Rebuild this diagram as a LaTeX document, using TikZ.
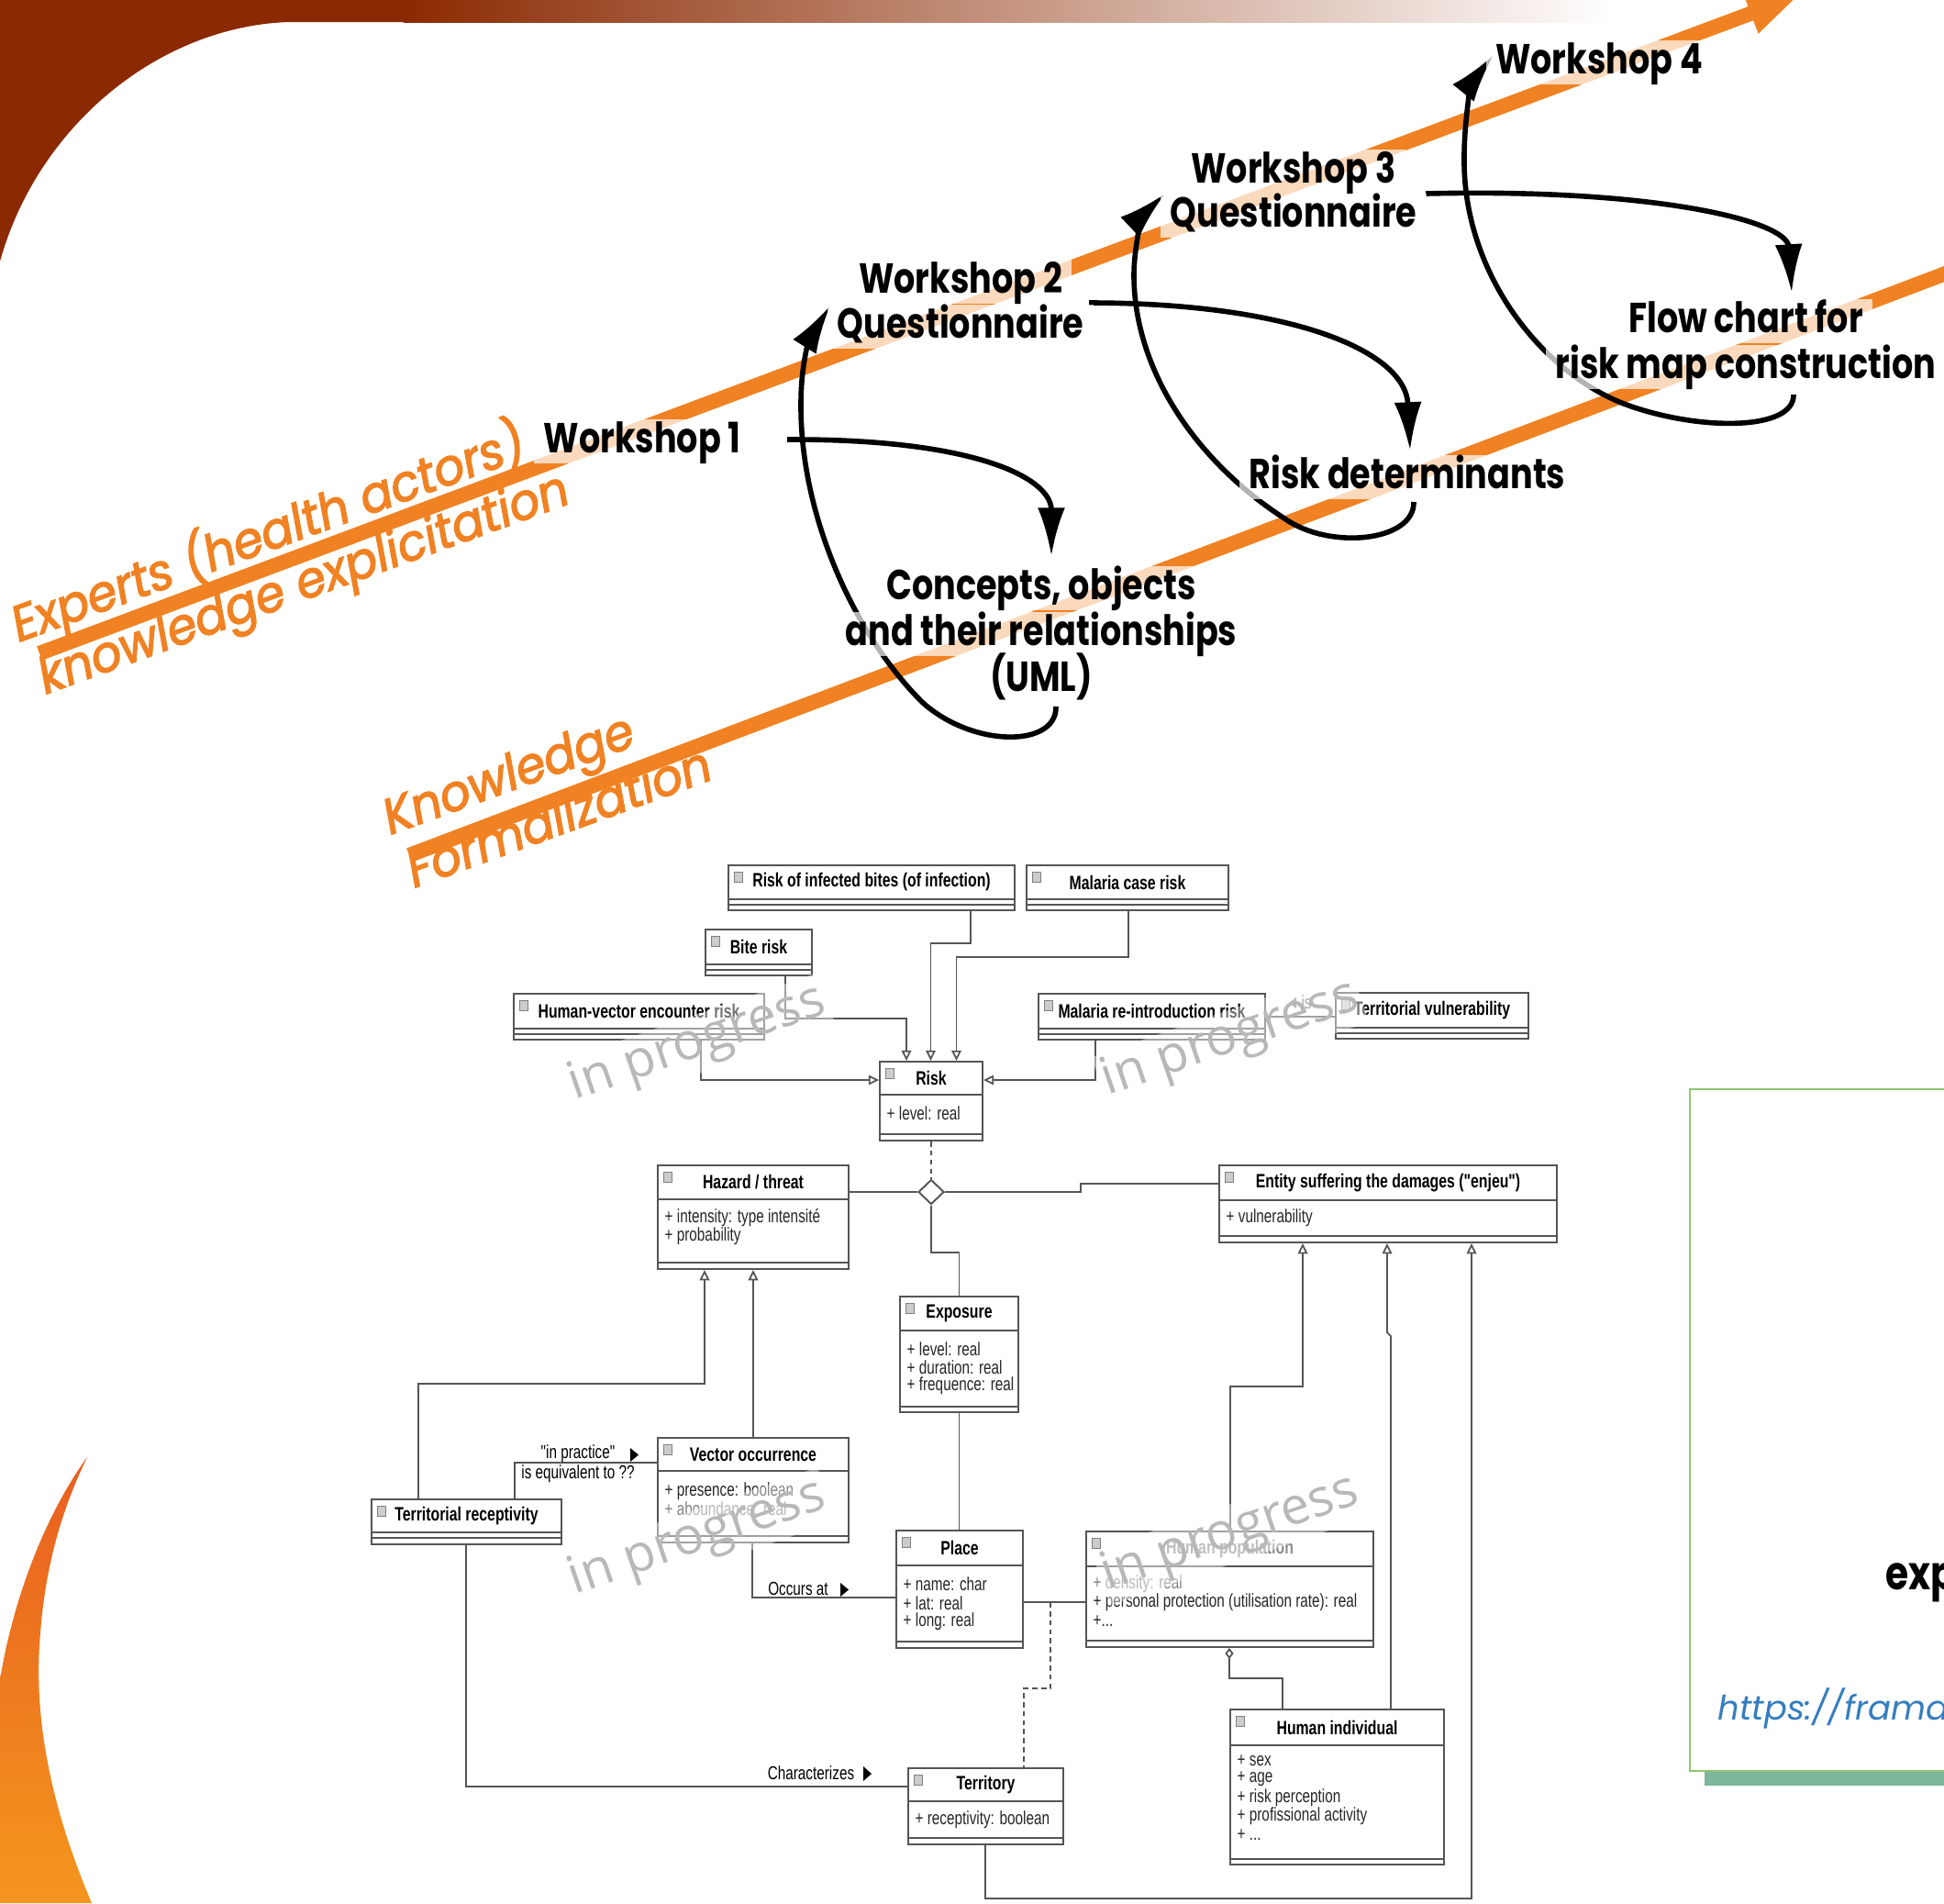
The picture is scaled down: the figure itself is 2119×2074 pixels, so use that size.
\documentclass[tikz,border=0pt]{standalone}
\usepackage{fontspec}
\usetikzlibrary{arrows.meta,shapes.geometric,fit}
\newfontfamily\wsf[FakeStretch=0.8]{Poppins}
\newfontfamily\orf[FakeStretch=0.95,FakeBold=2.5]{Poppins}
\newfontfamily\lnkf{Poppins}
\newfontfamily\umlf[FakeStretch=0.75]{Liberation Sans}
\newfontfamily\wmf{Open Sans}
\definecolor{orng}{RGB}{240,130,35}
\definecolor{brwn}{RGB}{139,42,2}
\definecolor{umlgray}{RGB}{85,85,85}
\definecolor{grn}{RGB}{140,197,110}
\definecolor{shgrn}{RGB}{125,182,154}
\definecolor{lnk}{RGB}{52,125,190}
\definecolor{cresA}{RGB}{232,94,32}
\definecolor{cresB}{RGB}{244,150,30}
\tikzset{
  band/.style={draw=orng, line width=4.6pt},
  blk/.style={draw=black, line width=1.6pt, -{Latex[length=15pt,width=8.5pt]}},
  wst/.style={font=\wsf\bfseries\fontsize{13}{15}\selectfont, fill=white, fill opacity=0.7, text opacity=1, inner xsep=3pt, inner ysep=0.8pt, text height=9.6pt, text depth=2.6pt},
  ort/.style={font=\orf\itshape\fontsize{15.5}{18}\selectfont, text=orng, inner sep=0pt, anchor=base west, rotate=20},
  umlframe/.style={draw=umlgray, line width=0.55pt, fill=white, inner sep=0pt},
  umlsep/.style={draw=umlgray, line width=0.5pt},
  umlicon/.style={draw=gray, fill=gray!40, line width=0.25pt, minimum width=0.09cm, minimum height=0.11cm, inner sep=0pt},
  umlname/.style={font=\umlf\bfseries\fontsize{6}{7}\selectfont, inner sep=0pt},
  umlattr/.style={font=\umlf\fontsize{5.8}{6.8}\selectfont, inner sep=0pt, anchor=west, text=black!85},
  conn/.style={draw=umlgray, line width=0.5pt},
  gen/.style={conn, -{Triangle[open,length=3.2pt,width=3pt]}},
  agg/.style={conn, -{Diamond[open,length=3.4pt,width=2.6pt]}},
  dconn/.style={conn, dash pattern=on 1.6pt off 1.2pt},
  lbl/.style={font=\umlf\fontsize{5.8}{6.8}\selectfont, inner sep=0pt},
  wm/.style={font=\wmf\fontsize{16}{18}\selectfont, text=black!28, rotate=19, fill=white, fill opacity=0.45, text opacity=1, inner sep=1pt},
}
\newcommand\umlclass[7]{%
  \coordinate (#1-nw) at (#2,#3);
  \coordinate (#1-se) at (#4,#5);
  \node[umlframe, fit=(#1-nw)(#1-se)] (#1) {};
  \draw[umlsep] (#2,#6) -- (#4,#6);
  \node[umlicon] (#1-i) at (#2+11,#3+13) {};
  \node[umlname] (#1-t) at ({(#2+#4)/2},{(#3+#6)/2}) {#7};
}
\newcommand\umlline[3]{\draw[umlsep] (#1,#3) -- (#2,#3);}
\begin{document}
\begin{tikzpicture}[x=0.01cm,y=-0.01cm]
\useasboundingbox (0,0) rectangle (2119,2074);
\begin{scope}
\clip (0,0) rectangle (2119,2074);
% background decorations
\fill[brwn] (0,0) -- (0,285) .. controls (40,140) and (170,30) .. (313,24) -- (440,24) -- (440,0) -- cycle;
\shade[left color=brwn, right color=white] (440,0) rectangle (1760,24);
\shade[top color=cresA, bottom color=cresB] (95,1588) .. controls (50,1650) and (15,1740) .. (0,1830) -- (0,2074) -- (100,2074) .. controls (60,1980) and (35,1880) .. (44,1780) .. controls (50,1700) and (70,1640) .. (95,1588) -- cycle;
% right panel
\fill[shgrn] (1858,1928) rectangle (2140,1946);
\draw[draw=grn, line width=0.7pt, fill=white] (1842,1187) rectangle (2140,1930);
\node[font=\wsf\bfseries\fontsize{14.5}{16}\selectfont, anchor=base west, inner sep=0pt] (exptext) at (2055,1732) {exp};
\node[font=\lnkf\itshape\fontsize{10.5}{12}\selectfont, text=lnk, anchor=base west, inner sep=0pt] (link) at (1872,1874) {https://frama};
% bands
\draw[band, -{Triangle[length=16pt,width=12pt]}] (43,712) -- (1961,-5);
\draw[band] (446,932) -- (2200,268);
% orange labels
\node[ort] (ex1) at (20,700) {Experts (health actors)};
\node[ort] (ex2) at (49,757) {knowledge explicitation};
\node[ort] (kf1) at (425,910) {Knowledge};
\node[ort] (kf2) at (451,968) {Formalization};
% black arrows
\coordinate (aS) at (858,479); \coordinate (aE) at (1146,606);
\coordinate (bS) at (1151,770); \coordinate (bE) at (905,333);
\coordinate (cS) at (1187,330); \coordinate (cE) at (1537,491);
\coordinate (dS) at (1541,547); \coordinate (dE) at (1270,211);
\coordinate (eS) at (1554,211); \coordinate (eE) at (1953,319);
\coordinate (fS) at (1955,430); \coordinate (fE) at (1628,60);
\draw[blk] (aS) .. controls (1060,478) and (1146,520) .. (aE);
\draw[blk] (bS) .. controls (1152,815) and (1060,815) .. (1005,765) .. controls (930,690) and (872,560) .. (873,440) .. controls (873,390) and (885,365) .. (bE);
\draw[blk] (cS) .. controls (1400,330) and (1532,380) .. (cE);
\draw[blk] (dS) .. controls (1542,590) and (1450,600) .. (1400,565) .. controls (1300,500) and (1236,400) .. (1236,300) .. controls (1236,260) and (1250,230) .. (dE);
\draw[blk] (eS) .. controls (1800,205) and (1948,240) .. (eE);
\draw[blk] (fS) .. controls (1956,470) and (1850,470) .. (1770,440) .. controls (1680,405) and (1598,300) .. (1596,180) .. controls (1595,120) and (1608,85) .. (fE);
% top texts
\node[wst] (w1) at (700,481) {Workshop 1};
\node[wst] (w2a) at (1047,307) {Workshop 2};
\node[wst] (w2b) at (1047,356) {Questionnaire};
\node[wst] (w3a) at (1410,187) {Workshop 3};
\node[wst] (w3b) at (1410,235) {Questionnaire};
\node[wst] (w4) at (1743,68) {Workshop 4};
\node[wst] (fc1) at (1903,350) {Flow chart for};
\node[wst] (fc2) at (1903,400) {risk map construction};
\node[wst] (rd) at (1534,520) {Risk determinants};
\node[wst] (co1) at (1135,641) {Concepts, objects};
\node[wst] (co2) at (1135,691) {and their relationships};
\node[wst] (co3) at (1135,741) {(UML)};
% UML classes
\umlclass{rib}{794}{943}{1106}{992}{980}{Risk of infected bites (of infection)}
\umlline{794}{1106}{986}
\umlclass{mcr}{1119}{943}{1339}{992}{980}{Malaria case risk}
\umlline{1119}{1339}{986}
\umlclass{bite}{769}{1013}{885}{1063}{1051}{Bite risk}
\umlline{769}{885}{1057}
\umlclass{hve}{560}{1083}{833}{1133}{1121}{Human-vector encounter risk}
\umlline{560}{833}{1127}
\umlclass{mri}{1132}{1083}{1379}{1133}{1121}{Malaria re-introduction risk}
\umlline{1132}{1379}{1127}
\umlclass{tv}{1456}{1082}{1666}{1132}{1120}{Territorial vulnerability}
\umlline{1456}{1666}{1126}
\umlclass{risk}{959}{1157}{1071}{1243}{1193}{Risk}
\umlline{959}{1071}{1236}
\node[umlattr] (risk-a) at (966,1213) {+ level: real};
\umlclass{haz}{717}{1270}{925}{1383}{1307}{Hazard / threat}
\umlline{717}{925}{1376}
\node[umlattr] (haz-a) at (724,1327) {+ intensity: type intensité};
\node[umlattr] (haz-b) at (724,1347) {+ probability};
\umlclass{ent}{1329}{1270}{1697}{1354}{1308}{Entity suffering the damages ("enjeu")}
\umlline{1329}{1697}{1347}
\node[umlattr] (ent-a) at (1336,1327) {+ vulnerability};
\umlclass{expo}{981}{1413}{1110}{1539}{1450}{Exposure}
\umlline{981}{1110}{1533}
\node[umlattr] (expo-a) at (988,1470) {+ level: real};
\node[umlattr] (expo-b) at (988,1490) {+ duration: real};
\node[umlattr] (expo-c) at (988,1510) {+ frequence: real};
\umlclass{vo}{717}{1567}{925}{1681}{1603}{Vector occurrence}
\umlline{717}{925}{1674}
\node[umlattr] (vo-a) at (724,1625) {+ presence: boolean};
\node[umlattr, text=black!50] (vo-b) at (724,1644) {+ aboundance: real};
\umlclass{tr}{405}{1634}{612}{1683}{1670}{Territorial receptivity}
\umlline{405}{612}{1676}
\umlclass{place}{977}{1668}{1115}{1796}{1706}{Place}
\umlline{977}{1115}{1789}
\node[umlattr] (place-a) at (984,1726) {+ name: char};
\node[umlattr] (place-b) at (984,1747) {+ lat: real};
\node[umlattr] (place-c) at (984,1767) {+ long: real};
\umlclass{hp}{1184}{1669}{1497}{1795}{1707}{\color{black!45}Human population}
\umlline{1184}{1497}{1788}
\node[umlattr, text=black!50] (hp-a) at (1191,1726) {+ density: real};
\node[umlattr] (hp-b) at (1191,1746) {+ personal protection (utilisation rate): real};
\node[umlattr] (hp-c) at (1191,1767) {+...};
\umlclass{terr}{990}{1927}{1159}{2010}{1963}{Territory}
\umlline{990}{1159}{2003}
\node[umlattr] (terr-a) at (997,1983) {+ receptivity: boolean};
\umlclass{hi}{1341}{1863}{1574}{2032}{1902}{Human individual}
\umlline{1341}{1574}{2026}
\node[umlattr] (hi-a) at (1348,1919) {+ sex};
\node[umlattr] (hi-b) at (1348,1939) {+ age};
\node[umlattr] (hi-c) at (1348,1959) {+ risk perception};
\node[umlattr] (hi-d) at (1348,1979) {+ profissional activity};
\node[umlattr] (hi-e) at (1348,2000) {+ ...};
\node[diamond, draw=umlgray, fill=white, line width=0.55pt, minimum width=0.28cm, minimum height=0.27cm, inner sep=0pt] (dia) at (1015,1299) {};
% UML connectors
\draw[gen] (hve.south -| 764,0) |- (risk.west |- 0,1177);
\draw[gen] (bite.south -| 856,0) |- (988,1110) -- (risk.north -| 988,0);
\draw[gen] (rib.south -| 1058,0) -- (1058,1028) -| (risk.north -| 1014.5,0);
\draw[gen] (mcr.south -| 1230,0) -- (1230,1043) -| (risk.north -| 1042.5,0);
\draw[gen] (mri.south -| 1194,0) |- (risk.east |- 0,1177);
\draw[conn] (mri.east |- 0,1108) -- (tv.west |- 0,1108);
\fill[gray] (1413,1087) -- (1405,1093) -- (1413,1099) -- cycle;
\node[lbl, text=black!60] (islbl) at (1424,1092) {is};
\draw[dconn] (risk.south) -- (dia.north);
\draw[conn] (haz.east |- dia.west) -- (dia.west);
\draw[conn] (dia.east) -- (1178,1299) -- (1178,1290) -- (ent.west |- 0,1290);
\draw[conn] (dia.south) -- (dia.south |- 0,1365) -| (expo.north);
\draw[conn] (expo.south) -- (expo.south |- place.north);
\draw[gen] (vo.north) -- (vo.north |- haz.south);
\draw[gen] (tr.north -| 456,0) |- (768,1508) -- (haz.south -| 768,0);
\draw[conn] (tr.north -| 561,0) |- (vo.west |- 0,1594);
\node[lbl] (inpr) at (630,1584) {"in practice"};
\node[lbl] (iseq) at (630,1606) {is equivalent to ??};
\fill[black] (687,1578) -- (696,1585.5) -- (687,1593) -- cycle;
\draw[conn] (vo.south -| 820,0) |- (place.west |- 0,1741);
\node[lbl] (occ) at (870,1731) {Occurs at};
\fill[black] (916,1725) -- (925,1732.5) -- (916,1740) -- cycle;
\draw[conn] (tr.south -| 508,0) |- (terr.west |- 0,1947);
\node[lbl] (chr) at (884,1932) {Characterizes};
\fill[black] (941,1925) -- (950,1933) -- (941,1941) -- cycle;
\draw[conn] (place.east |- 0,1746) -- (hp.west |- 0,1746);
\coordinate (pj) at (1145,1746);
\draw[dconn] (pj) -- (1145,1840) -| (terr.north -| 1116,0);
\draw[gen] (hp.north -| 1341,0) |- (1420,1511) -- (ent.south -| 1420,0);
\draw[gen] (hi.north -| 1516,0) -- (1516,1456) -- (1512,1452) -- (ent.south -| 1512,0);
\draw[gen] (terr.south -| 1074,0) |- (1604,2069) -- (ent.south -| 1604,0);
\draw[agg] (hi.north -| 1398,0) |- (1340,1829) -- (hp.south -| 1340,0);
% watermarks
\node[wm] (wm1) at (760,1138) {in progress};
\node[wm] (wm2) at (1341,1133) {in progress};
\node[wm] (wm3) at (760,1677) {in progress};
\node[wm] (wm4) at (1341,1672) {in progress};
\end{scope}
\end{tikzpicture}
\end{document}
